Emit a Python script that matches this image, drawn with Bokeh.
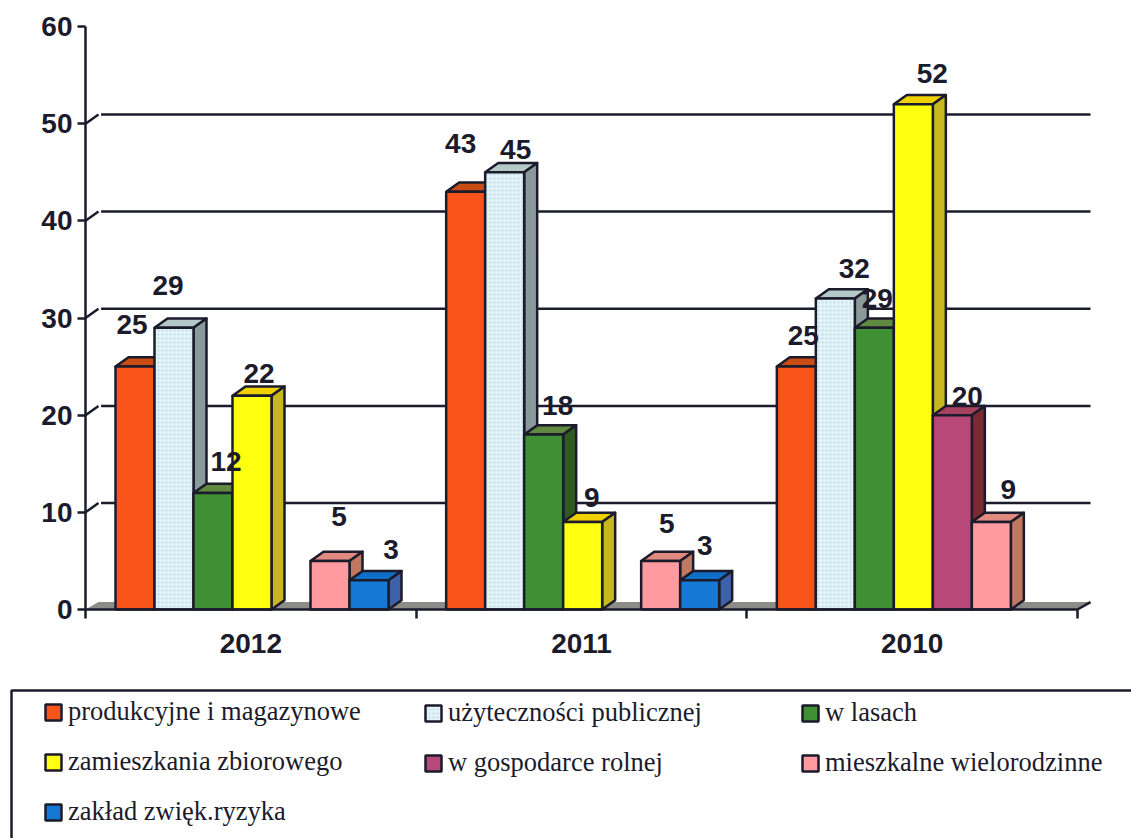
from bokeh.plotting import figure
from bokeh.embed import file_html
from bokeh.resources import INLINE
from bokeh.models import FixedTicker, Legend, LegendItem, ColumnDataSource, Range1d
from bokeh.core.properties import value

# ---- data ----
years = ["2012", "2011", "2010"]
series_names = ["produkcyjne i magazynowe", "użyteczności publicznej", "w lasach",
                "zamieszkania zbiorowego", "w gospodarce rolnej",
                "mieszkalne wielorodzinne", "zakład zwięk.ryzyka"]
produkcyjne = [25, 43, 25]
uzytecznosci = [29, 45, 32]
w_lasach = [12, 18, 29]
zamieszkania = [22, 9, 52]
w_gospodarce = [0, 0, 20]
mieszkalne = [5, 5, 9]
zaklad = [3, 3, 0]
all_series = [produkcyjne, uzytecznosci, w_lasach, zamieszkania, w_gospodarce, mieszkalne, zaklad]
y_ticks = [0, 10, 20, 30, 40, 50, 60]

# ---- style ----
INK = "#1b1b2b"
front = ["#f9551a", "#e3f4f8", "#3f8f35", "#ffff10", "#b84878", "#ff9ba0", "#1478d4"]
top = ["#c94c14", "#b4c8c8", "#5f8a40", "#f0d000", "#a84060", "#e08a80", "#1070c8"]
side = ["#a83c10", "#8a9a9a", "#2f5a20", "#c8b820", "#7a2a30", "#c07860", "#3d62a8"]
# label offsets from the top centre of each bar, screen pixels, per series and per year
label_dx = [[-3, -5, 7], [-6, 11, 19], [13, 14, 3], [7, 9, 19], [0, 0, 15], [9, 6, 17], [22, 5, 0]]
label_dy = [[-42, -48, -31], [-42, -23, -30], [-31, -29, -29], [-22, -25, -31], [0, 0, -19], [-44, -37, -33], [-31, -35, 0]]

W, H = 1131, 838
LEFT_PX, BASE_PX, TOP_PX = 85, 609, 26          # where x=0, y=0 and y=60 fall on the page
GROUP_PX = 330.67
UNIT_PX = (BASE_PX - TOP_PX) / max(y_ticks)
GAP = 30 / GROUP_PX
SLOT = 39 / GROUP_PX
DX = 13 / GROUP_PX
DY = 0.95
x_end = len(years)

def page_x(px):
    return (px - LEFT_PX) / GROUP_PX

def page_y(px):
    return (BASE_PX - px) / UNIT_PX

# the frame fills the whole page, so that the legend can sit under the axis
p = figure(width=W, height=H, output_backend="svg", toolbar_location=None,
           x_range=Range1d(page_x(0), page_x(W)), y_range=Range1d(page_y(H), page_y(0)),
           min_border=0, background_fill_color="white", border_fill_color="white")
p.outline_line_color = None
p.grid.visible = False

# axes
centers = [i + 0.5 for i in range(len(years))]
p.xaxis.fixed_location = 0
p.yaxis.fixed_location = 0
p.xaxis.bounds = (0, x_end)
p.yaxis.bounds = (0, max(y_ticks))
p.xaxis.ticker = FixedTicker(ticks=centers, minor_ticks=list(range(len(years) + 1)))
p.xaxis.major_label_overrides = {c: y for c, y in zip(centers, years)}
p.xaxis.major_tick_line_color = None
p.xaxis.minor_tick_in = 0
p.xaxis.minor_tick_out = 9
p.xaxis.minor_tick_line_width = 2.5
p.xaxis.minor_tick_line_color = INK
p.xaxis.major_label_standoff = 15
p.yaxis.ticker = FixedTicker(ticks=y_ticks)
p.yaxis.minor_tick_line_color = None
p.yaxis.major_tick_in = 0
p.yaxis.major_tick_out = 8
p.yaxis.major_tick_line_width = 2.5
p.yaxis.major_tick_line_color = INK
p.yaxis.major_label_standoff = 5
for ax in (p.xaxis, p.yaxis):
    ax.axis_line_color = INK
    ax.axis_line_width = 2.5
    ax.major_label_text_font = "Liberation Sans"
    ax.major_label_text_font_style = "bold"
    ax.major_label_text_font_size = "28px"
    ax.major_label_text_color = INK

# floor and back wall lines
p.patch([0, DX, x_end + DX, x_end], [0, DY * 0.8, DY * 0.8, 0], fill_color="#8c8c88",
        line_color=None)
p.line([x_end, x_end + DX], [0, DY * 0.8], line_color=INK, line_width=2.5)
grid_vals = [v for v in y_ticks if 0 < v < max(y_ticks)]
p.multi_line([[DX * 1.2, x_end + DX] for _ in grid_vals], [[v + DY, v + DY] for v in grid_vals],
             line_color=INK, line_width=2.5)
p.multi_line([[0, DX] for _ in grid_vals], [[v, v + DY] for v in grid_vals],
             line_color=INK, line_width=2.5)

# bars (painted left to right so that each covers its neighbour's side)
label_x, label_y, label_t, off_x, off_y = [], [], [], [], []
front_rs = [None] * len(all_series)
for g in range(len(years)):
    for k, vals in enumerate(all_series):
        v = vals[g]
        x0 = g + GAP + k * SLOT
        x1 = x0 + SLOT
        if v <= 0:
            continue
        p.patch([x0, x0 + DX, x1 + DX, x1], [v, v + DY, v + DY, v], fill_color=top[k],
                line_color=INK, line_width=2.5, line_join="round")
        p.patch([x1, x1 + DX, x1 + DX, x1], [0, DY, v + DY, v], fill_color=side[k],
                line_color=INK, line_width=2.5, line_join="round")
        r = p.quad(left=[x0], right=[x1], bottom=[0], top=[v], fill_color=front[k],
                   line_color=INK, line_width=2.5)
        if k == 1:
            r.glyph.hatch_pattern = "dot"
            r.glyph.hatch_color = "#bcd8e0"
            r.glyph.hatch_scale = 4
            r.glyph.hatch_weight = 1
        if front_rs[k] is None:
            front_rs[k] = r
        label_x.append((x0 + x1) / 2)
        label_y.append(v)
        label_t.append(str(v))
        off_x.append(label_dx[k][g])
        off_y.append(label_dy[k][g])

src = ColumnDataSource(dict(x=label_x, y=label_y, t=label_t, ox=off_x, oy=off_y))
p.text(x="x", y="y", text="t", x_offset="ox", y_offset="oy", source=src,
       text_font=value("Liberation Sans"), text_font_style="bold", text_font_size="28px",
       text_color=INK, text_align="center", text_baseline="middle")

# legend box: open at the bottom and the right, as in the reference
p.line([page_x(11), page_x(11), page_x(W)], [page_y(H), page_y(690), page_y(690)],
       line_color=INK, line_width=2.5)

ROW_H = 30
ROW_GAP = 19
col_rows = [[0, 3, 6], [1, 4], [2, 5]]
col_x = [43, 423, 800]
for idx, cx in zip(col_rows, col_x):
    rows = len(idx)
    bottom_px = 699 + rows * ROW_H + (rows - 1) * ROW_GAP
    leg = Legend(items=[LegendItem(label=series_names[i], renderers=[front_rs[i]]) for i in idx],
                 orientation="vertical", location=(cx, H - bottom_px),
                 label_text_font="Liberation Serif", label_text_font_size="26.5px",
                 label_text_color=INK, label_standoff=5, glyph_width=20, glyph_height=20,
                 label_height=20, spacing=ROW_GAP, padding=0, margin=0,
                 border_line_color=None, background_fill_alpha=0.0)
    p.add_layout(leg, "center")

open("out.html", "w").write(file_html(p, INLINE))
